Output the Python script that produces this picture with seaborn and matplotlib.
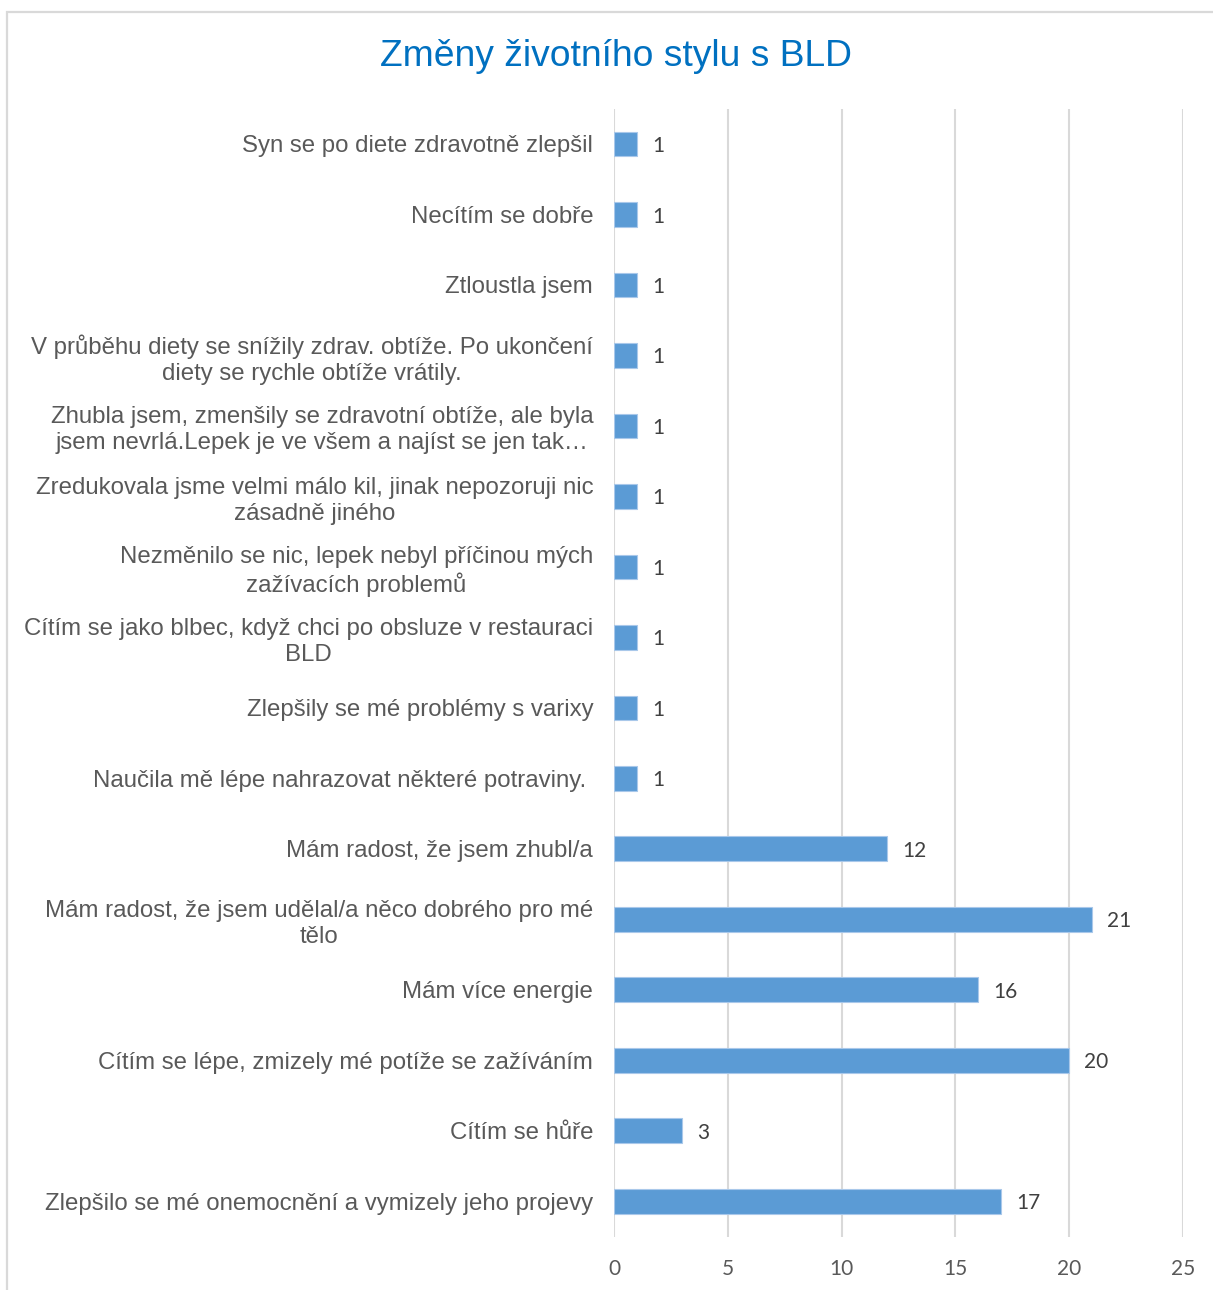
import matplotlib
matplotlib.use("Agg")
import matplotlib.pyplot as plt
import matplotlib.patches as mpatches
import seaborn as sns
import pandas as pd

categories = [
    "Syn se po diete zdravotně zlepšil",
    "Necítím se dobře",
    "Ztloustla jsem",
    "V průběhu diety se snížily zdrav. obtíže. Po ukončení\ndiety se rychle obtíže vrátily.",
    "Zhubla jsem, zmenšily se zdravotní obtíže, ale byla\njsem nevrlá.Lepek je ve všem a najíst se jen tak…",
    "Zredukovala jsme velmi málo kil, jinak nepozoruji nic\nzásadně jiného",
    "Nezměnilo se nic, lepek nebyl příčinou mých\nzažívacích problemů",
    "Cítím se jako blbec, když chci po obsluze v restauraci\nBLD",
    "Zlepšily se mé problémy s varixy",
    "Naučila mě lépe nahrazovat některé potraviny. ",
    "Mám radost, že jsem zhubl/a",
    "Mám radost, že jsem udělal/a něco dobrého pro mé\ntělo",
    "Mám více energie",
    "Cítím se lépe, zmizely mé potíže se zažíváním",
    "Cítím se hůře",
    "Zlepšilo se mé onemocnění a vymizely jeho projevy",
]
counts = [1, 1, 1, 1, 1, 1, 1, 1, 1, 1, 12, 21, 16, 20, 3, 17]
x_ticks = [0, 5, 10, 15, 20, 25]
title = "Změny životního stylu s BLD"

df = pd.DataFrame({"kategorie": categories, "pocet": counts})

sns.set_theme(style="white")
plt.rcParams["font.family"] = ["Liberation Sans", "DejaVu Sans"]

W, H = 1213, 1290
fig = plt.figure(figsize=(W / 100, H / 100), dpi=100)

# outer chart frame (runs past the right and bottom edges)
fig.patches.append(mpatches.Rectangle((7 / W, -0.05), 1.1, 1 - 12 / H + 0.05,
                                      transform=fig.transFigure, fill=False,
                                      edgecolor="#D9D9D9", linewidth=1.6))

ax_left, ax_right = 614, 1183
ax_top, ax_bottom = 108.7, 1236.5
ax = fig.add_axes([ax_left / W, 1 - ax_bottom / H,
                   (ax_right - ax_left) / W, (ax_bottom - ax_top) / H])

sns.barplot(data=df, y="kategorie", x="pocet", orient="h", ax=ax,
            color="#5B9BD5", saturation=1, width=0.35,
            edgecolor="#A9C8EA", linewidth=0.8, zorder=3)

ax.set_xlim(0, 25)
ax.set_xticks(x_ticks)
ax.set_xticklabels([str(t) for t in x_ticks], family="Lato", fontsize=15,
                   color="#595959")
ax.tick_params(axis="x", length=0, pad=16)
ax.tick_params(axis="y", length=0, pad=15)
for lbl in ax.get_yticklabels():
    lbl.set_fontsize(17.3)
    lbl.set_color("#595959")
    lbl.set_multialignment("center")
    lbl.set_linespacing(1.22)
ax.set_xlabel("")
ax.set_ylabel("")
ax.grid(axis="x", color="#D9D9D9", linewidth=1.5, zorder=0)
ax.set_axisbelow(True)
for s in ax.spines.values():
    s.set_visible(False)

for cont in ax.containers:
    anns = ax.bar_label(cont, labels=[str(v) for v in counts], padding=11,
                        family="Lato", fontsize=15, color="#404040")
    for a in anns:
        a.xyann = (11, -1.5)

fig.text(616 / W, 1 - 56 / H, title, ha="center", va="center",
         fontsize=26.8, color="#0070C0")

fig.savefig("out.png", dpi=100, facecolor="white")
